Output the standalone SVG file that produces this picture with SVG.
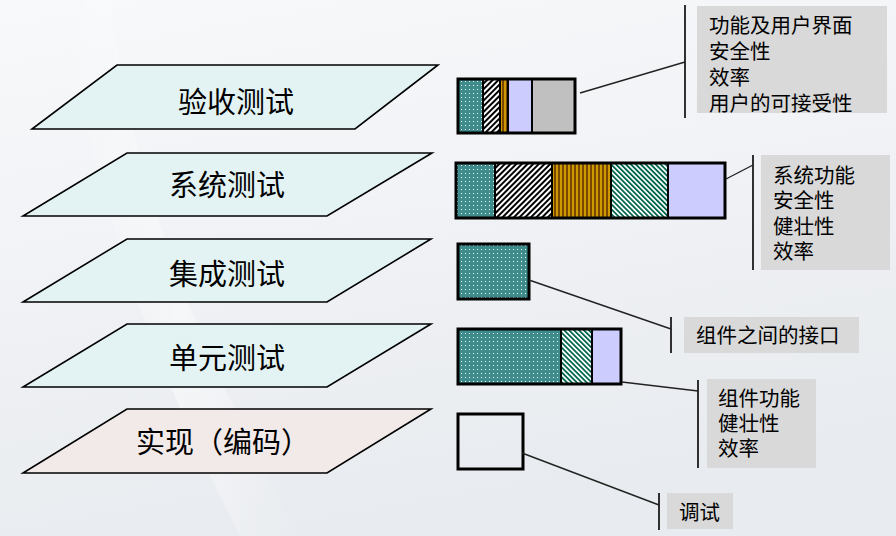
<svg xmlns="http://www.w3.org/2000/svg" width="896" height="536" viewBox="0 0 896 536">
<defs>
  <linearGradient id="bg" x1="0" y1="0" x2="0.3" y2="1">
    <stop offset="0" stop-color="#f8f9fb"/>
    <stop offset="1" stop-color="#e8ebef"/>
  </linearGradient>
  <linearGradient id="swoosh" x1="0" y1="0" x2="1" y2="0">
    <stop offset="0" stop-color="#ffffff" stop-opacity="0"/>
    <stop offset="0.5" stop-color="#ffffff" stop-opacity="0.7"/>
    <stop offset="1" stop-color="#ffffff" stop-opacity="0"/>
  </linearGradient>
  <pattern id="dots" width="4" height="4" patternUnits="userSpaceOnUse">
    <rect width="4" height="4" fill="#3f8c8c"/>
    <rect x="1" y="1" width="1" height="1" fill="#ffffff"/>
  </pattern>
  <pattern id="hatchBW" width="4" height="4" patternUnits="userSpaceOnUse" patternTransform="rotate(45)">
    <rect width="4" height="4" fill="#ffffff"/>
    <rect width="2" height="4" fill="#000000"/>
  </pattern>
  <pattern id="vstripe" width="4" height="4" patternUnits="userSpaceOnUse">
    <rect width="4" height="4" fill="#cc9a00"/>
    <rect x="2" width="2" height="4" fill="#7a4800"/>
  </pattern>
  <pattern id="hatchG" width="3.5" height="3.5" patternUnits="userSpaceOnUse" patternTransform="rotate(-45)">
    <rect width="3.5" height="3.5" fill="#ffffff"/>
    <rect width="1.8" height="3.5" fill="#00664d"/>
  </pattern>
  <style>
    .para { fill: #e3f3f3; stroke: #000; stroke-width: 1.6; }
    .para2 { fill: #f2e9e9; stroke: #000; stroke-width: 1.6; }
    .plabel { font-family: "Noto Sans CJK SC", "Noto Sans CJK JP", sans-serif; font-size: 29px; fill: #000; text-anchor: middle; dominant-baseline: central; }
    .seg { stroke: #000; stroke-width: 2; }
    .bar { fill: none; stroke: #000; stroke-width: 3; }
    .cbox { fill: #d9d9d9; }
    .bracket { stroke: #000; stroke-width: 1.6; fill: none; }
    .conn { stroke: #222; stroke-width: 1.4; fill: none; }
    .ctext { font-family: "Noto Sans CJK SC", "Noto Sans CJK JP", sans-serif; font-size: 20.5px; fill: #000; dominant-baseline: central; }
  </style>
</defs>

<rect width="896" height="536" fill="url(#bg)"/>
<path d="M60,0 C90,150 120,300 240,536 L300,536 C170,300 130,150 110,0 Z" fill="url(#swoosh)" opacity="0.6"/>

<g id="layer-acceptance">
  <polygon class="para" points="117,65 438,65 355,129 32,129"/>
  <text class="plabel" x="236" y="100">验收测试</text>
</g>
<g id="layer-system">
  <polygon class="para" points="127,153 432,153 327,216 23,216"/>
  <text class="plabel" x="227" y="183">系统测试</text>
</g>
<g id="layer-integration">
  <polygon class="para" points="127,239 431,239 327,302 23,302"/>
  <text class="plabel" x="227" y="272">集成测试</text>
</g>
<g id="layer-unit">
  <polygon class="para" points="127,324 431,324 327,387 23,387"/>
  <text class="plabel" x="227" y="356">单元测试</text>
</g>
<g id="layer-impl">
  <polygon class="para2" points="127,409 431,409 327,473 23,473"/>
  <text class="plabel" x="136" y="440" style="text-anchor:start">实现（编码）</text>
</g>

<g id="bar-acceptance">
  <rect class="seg" x="458" y="79" width="25" height="54" fill="url(#dots)"/>
  <rect class="seg" x="483" y="79" width="17" height="54" fill="url(#hatchBW)"/>
  <rect class="seg" x="500" y="79" width="8" height="54" fill="url(#vstripe)"/>
  <rect class="seg" x="508" y="79" width="24" height="54" fill="#ccccff"/>
  <rect class="seg" x="532" y="79" width="43" height="54" fill="#c0c0c0"/>
  <rect class="bar" x="458" y="79" width="117" height="54"/>
</g>
<g id="bar-system">
  <rect class="seg" x="456" y="163" width="39" height="55" fill="url(#dots)"/>
  <rect class="seg" x="495" y="163" width="57" height="55" fill="url(#hatchBW)"/>
  <rect class="seg" x="552" y="163" width="59" height="55" fill="url(#vstripe)"/>
  <rect class="seg" x="611" y="163" width="57" height="55" fill="url(#hatchG)"/>
  <rect class="seg" x="668" y="163" width="57" height="55" fill="#ccccff"/>
  <rect class="bar" x="456" y="163" width="269" height="55"/>
</g>
<g id="bar-integration">
  <rect class="seg" x="458" y="244" width="71" height="55" fill="url(#dots)"/>
  <rect class="bar" x="458" y="244" width="71" height="55"/>
</g>
<g id="bar-unit">
  <rect class="seg" x="458" y="329" width="103" height="55" fill="url(#dots)"/>
  <rect class="seg" x="561" y="329" width="31" height="55" fill="url(#hatchG)"/>
  <rect class="seg" x="592" y="329" width="29" height="55" fill="#ccccff"/>
  <rect class="bar" x="458" y="329" width="163" height="55"/>
</g>
<g id="bar-impl">
  <rect class="bar" x="458" y="414" width="65" height="55" fill="#ffffff"/>
</g>

<g id="note-acceptance">
  <rect class="cbox" x="697" y="6" width="190" height="107"/>
  <line class="bracket" x1="685" y1="5" x2="685" y2="118"/>
  <text class="ctext" x="709" y="24"><tspan x="709" y="24">功能及用户界面</tspan><tspan x="709" y="50">安全性</tspan><tspan x="709" y="76">效率</tspan><tspan x="709" y="102">用户的可接受性</tspan></text>
</g>
<g id="note-system">
  <rect class="cbox" x="761" y="155" width="129" height="115"/>
  <line class="bracket" x1="753" y1="155" x2="753" y2="270"/>
  <text class="ctext" x="773" y="174"><tspan x="773" y="174">系统功能</tspan><tspan x="773" y="199">安全性</tspan><tspan x="773" y="225">健壮性</tspan><tspan x="773" y="250">效率</tspan></text>
</g>
<g id="note-integration">
  <rect class="cbox" x="684" y="317" width="175" height="36"/>
  <line class="bracket" x1="671" y1="317" x2="671" y2="353"/>
  <text class="ctext" x="696" y="334">组件之间的接口</text>
</g>
<g id="note-unit">
  <rect class="cbox" x="707" y="379" width="109" height="89"/>
  <line class="bracket" x1="698" y1="380" x2="698" y2="468"/>
  <text class="ctext" x="718" y="397"><tspan x="718" y="397">组件功能</tspan><tspan x="718" y="422">健壮性</tspan><tspan x="718" y="447">效率</tspan></text>
</g>
<g id="note-impl">
  <rect class="cbox" x="667" y="493" width="66" height="36"/>
  <line class="bracket" x1="659" y1="493" x2="659" y2="530"/>
  <text class="ctext" x="679" y="511">调试</text>
</g>

<g id="connectors">
  <line class="conn" x1="580" y1="93" x2="685" y2="62"/>
  <line class="conn" x1="726" y1="179" x2="753" y2="165"/>
  <line class="conn" x1="529" y1="280" x2="671" y2="329"/>
  <line class="conn" x1="622" y1="382" x2="698" y2="391"/>
  <line class="conn" x1="522" y1="453" x2="659" y2="505"/>
</g>
</svg>
